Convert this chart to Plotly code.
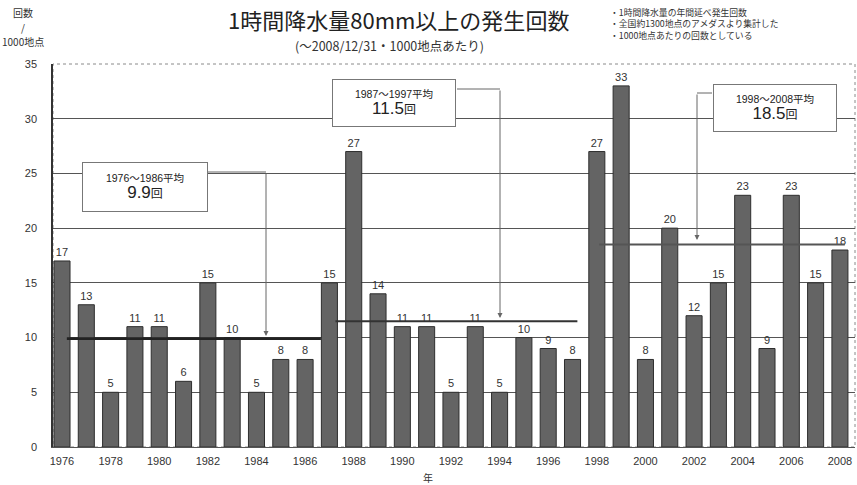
import plotly.graph_objects as go

years = list(range(1976, 2009))
counts = [17, 13, 5, 11, 11, 6, 15, 10, 5, 8, 8,
          15, 27, 14, 11, 11, 5, 11, 5, 10, 9, 8,
          27, 33, 8, 20, 12, 15, 23, 9, 23, 15, 18]
period_starts = [1976, 1987, 1998]
period_ends = [1986, 1997, 2008]
period_avgs = [9.9, 11.5, 18.5]
y_ticks = [0, 5, 10, 15, 20, 25, 30, 35]
x_ticks = list(range(1976, 2009, 2))

W, H = 857, 485
ML, MR, MT, MB = 53, 2, 64, 38
PW, PH = W - ML - MR, H - MT - MB
X0, X1 = 1975.63, 2008.62
Y0, Y1 = 0, 35

def px2x(px):
    return X0 + (px - ML) / PW * (X1 - X0)

def py2y(py):
    return Y0 + (MT + PH - py) / PH * (Y1 - Y0)

def ppx(px):
    return (px - ML) / PW

def ppy(py):
    return (MT + PH - py) / PH

FONT = "Liberation Sans, Noto Sans CJK JP, sans-serif"
JP = "Noto Sans CJK JP, sans-serif"
TXT = "#333333"

fig = go.Figure()
fig.add_trace(go.Bar(
    x=years, y=counts, text=counts, textposition="outside",
    textfont=dict(size=11, color=TXT, family=FONT),
    marker=dict(color="#646464", line=dict(color="#2e2e2e", width=1)),
    cliponaxis=False, hoverinfo="skip",
))

shapes = []
# plot frame (dotted top / right)
shapes.append(dict(type="rect", xref="paper", yref="paper", x0=0, x1=1, y0=0, y1=1,
                   line=dict(color="#8a8a8a", width=1, dash="dot"), layer="below"))
# average lines
offs = [(0.2, 0.65), (0.25, 0.2), (0.1, 0.2)]
widths = [2.6, 2.0, 2.0]
cols = ["#222222", "#333333", "#555555"]
for s, e, a, (o0, o1), w, c in zip(period_starts, period_ends, period_avgs, offs, widths, cols):
    shapes.append(dict(type="line", xref="x", yref="y", x0=s + o0, x1=e + o1, y0=a, y1=a,
                       line=dict(color=c, width=w), layer="above"))

# connectors (horizontal parts)
conn = [((208, 266), 172, 266, 336), ((457, 500), 89, 500, 318), ((712, 697), 93, 697, 240)]
for (hx0, hx1), hy, vx, vy in conn:
    shapes.append(dict(type="line", xref="x", yref="y", x0=px2x(hx0), x1=px2x(hx1),
                       y0=py2y(hy), y1=py2y(hy), line=dict(color="#666666", width=1)))

annotations = []
for (hx0, hx1), hy, vx, vy in conn:
    annotations.append(dict(x=px2x(vx), y=py2y(vy), ax=px2x(vx), ay=py2y(hy),
                            xref="x", yref="y", axref="x", ayref="y", text="",
                            showarrow=True, arrowhead=2, arrowsize=1, arrowwidth=1,
                            arrowcolor="#666666"))

# boxes
boxes = [(144.7, 187, 126, 50), (394, 103, 124, 48), (774.7, 107.5, 124, 48)]
for (cx, cy, bw, bh), s, e, a in zip(boxes, period_starts, period_ends, period_avgs):
    annotations.append(dict(
        x=px2x(cx), y=py2y(cy), xref="x", yref="y", showarrow=False,
        xanchor="center", yanchor="middle",
        text=(f"<span style='font-size:10.5px'>{s}～{e}平均</span><br>"
              f"<span style='font-size:17px'>{a}</span><span style='font-size:12px'>回</span>"),
        font=dict(family=FONT, color="#222222"),
        bgcolor="white", bordercolor="#777777", borderwidth=1, borderpad=0,
        width=bw - 2, height=bh - 2, align="center", valign="middle"))

def ptext(px, py, text, size, xanchor="center", align="center", color="#333333"):
    annotations.append(dict(x=ppx(px), y=ppy(py), xref="paper", yref="paper", showarrow=False,
                            xanchor=xanchor, yanchor="middle", align=align, text=text,
                            font=dict(family=JP, size=size, color=color)))

# titles
ptext(398, 19, "1時間降水量80mm以上の発生回数", 22, color="#222222")
ptext(389, 45, "(～2008/12/31・1000地点あたり)", 12.5)
notes = ["・1時間降水量の年間延べ発生回数", "・全国約1300地点のアメダスより集計した", "・1000地点あたりの回数としている"]
ptext(608, 24, "<br>".join(notes), 8.8, xanchor="left", align="left")
# axis titles
ptext(23, 13, "回数", 10)
ptext(23, 27, "/", 10)
ptext(23, 42, "1000地点", 10)
ptext(428, 477, "年", 10)

fig.update_layout(
    width=W, height=H, margin=dict(l=ML, r=MR, t=MT, b=MB, autoexpand=False),
    paper_bgcolor="white", plot_bgcolor="white", showlegend=False,
    bargap=0.34, shapes=shapes, annotations=annotations,
    font=dict(family=FONT, color=TXT),
)
fig.update_xaxes(range=[X0, X1], tickvals=x_ticks, ticktext=[str(v) for v in x_ticks],
                 showgrid=False, zeroline=False, showline=True, linecolor="#555555",
                 linewidth=1, ticks="", tickfont=dict(size=11, color=TXT), ticklabelstandoff=4)
fig.update_yaxes(range=[Y0, Y1], tickvals=y_ticks, showgrid=True, gridcolor="#555555",
                 gridwidth=1.3, zeroline=False, showline=True, linecolor="#333333",
                 linewidth=1.5, ticks="", tickfont=dict(size=11, color=TXT),
                 ticklabelstandoff=12)

fig.write_html("out.html")
